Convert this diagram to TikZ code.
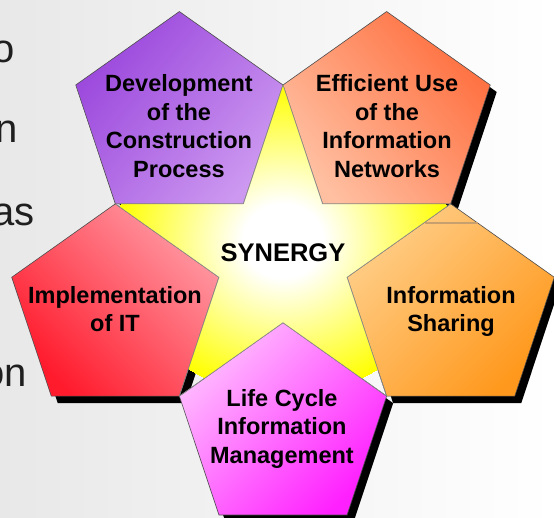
\documentclass[tikz,border=0pt]{standalone}
\usepackage{fontspec}
\setmainfont{Liberation Sans}
\usetikzlibrary{positioning,calc}

\definecolor{devdark}{HTML}{9A46DC}
\definecolor{devlight}{HTML}{CC98F0}
\definecolor{effdark}{HTML}{FF6E3E}
\definecolor{efflight}{HTML}{FFC0A2}
\definecolor{impdark}{HTML}{FF1A2C}
\definecolor{implight}{HTML}{FF9AA4}
\definecolor{shadark}{HTML}{FF981C}
\definecolor{shalight}{HTML}{FFCE88}
\definecolor{lifdark}{HTML}{FF20FF}
\definecolor{liflight}{HTML}{FFBEFF}
\definecolor{strayline}{HTML}{C8A070}

\pgfdeclareradialshading{starglow}{\pgfpoint{0bp}{0bp}}{color(0bp)=(white); color(6bp)=(white); color(25bp)=(yellow)}

\newcommand{\pentR}{106.3}

\begin{document}
\begin{tikzpicture}[x=1.025pt, y=1pt,
    pentline/.style={draw=black!70, line width=0.6pt},
    pentlabel/.style={font=\bfseries\fontsize{23.5}{28.5}\selectfont, align=center, inner sep=0pt},
    sidetext/.style={font=\fontsize{40}{48}\selectfont, text=black!88, anchor=base east, inner sep=0pt}]
    \useasboundingbox (0,0) rectangle (540.5,518);
    % slide background
    \shade[left color=gray!18, right color=white] (0,0) rectangle (540.5,518);

    % cut-off slide text
    \node[sidetext] (txto) at (14.6,455) {o};
    \node[sidetext] (txtn) at (17.6,375) {n};
    \node[sidetext] (txtas) at (34.1,292) {as};
    \node[sidetext] (txton) at (26.3,131) {on};

    % centres
    \coordinate (c) at (276.1,261);
    \foreach \a/\p in {126/dev, 54/eff, 198/imp, -18/sha, 270/lif}
        \coordinate (\p) at ($(c)+(\a:172)$);

    % shadows
    \foreach \p in {dev, eff, imp, sha, lif}
        \fill[black, shift={(\p)}, xshift=6.5pt, yshift=-7pt]
            (90:\pentR) -- (162:\pentR) -- (234:\pentR) -- (306:\pentR) -- (18:\pentR) -- cycle;

    % pentagons
    \foreach \p/\ct/\cb/\ang in {dev/devdark/devlight/50, eff/effdark/efflight/-50,
            imp/implight/impdark/-45, sha/shalight/shadark/45, lif/liflight/lifdark/45}
        \shade[pentline, shift={(\p)}, top color=\ct, bottom color=\cb, shading angle=\ang]
            (90:\pentR) -- (162:\pentR) -- (234:\pentR) -- (306:\pentR) -- (18:\pentR) -- cycle;

    % star
    \shade[shading=starglow, draw=black!45, line width=0.6pt, shift={(c)}]
        (90:172) -- (54:65.7) -- (18:172) -- (-18:65.7) -- (-54:172) -- (-90:65.7)
        -- (-126:172) -- (-162:65.7) -- (162:172) -- (126:65.7) -- cycle;
    \draw[strayline, line width=1.2pt] (414.6,295) -- (466.3,295);

    % labels
    \node[pentlabel] (devtxt) at (174.6,392) {Development\\of the\\Construction\\Process};
    \node[pentlabel] (efftxt) at (377.6,392) {Efficient Use\\of the\\Information\\Networks};
    \node[pentlabel] (imptxt) at (112.2,209) {Implementation\\of IT};
    \node[pentlabel] (shatxt) at (440,206.5) {Information\\Sharing};
    \node[pentlabel] (liftxt) at (275.1,89.5) {Life Cycle\\Information\\Management};
    \node[font=\bfseries\fontsize{25.5}{30}\selectfont, anchor=base, inner sep=0pt] (syn) at (276.1,256) {SYNERGY};
\end{tikzpicture}
\end{document}
